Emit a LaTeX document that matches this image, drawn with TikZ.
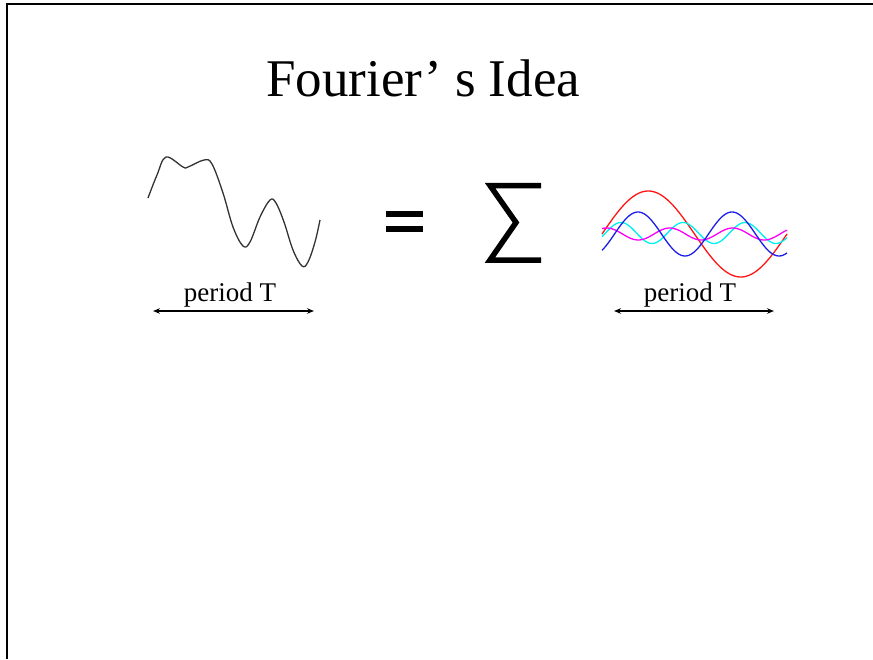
\documentclass[tikz,border=0pt]{standalone}
\usepackage{fontspec}
\setmainfont{Liberation Serif}
\usetikzlibrary{arrows.meta}
\definecolor{wred}{RGB}{255,20,20}
\definecolor{wblue}{RGB}{30,30,235}
\definecolor{wcyan}{RGB}{0,240,240}
\definecolor{wmag}{RGB}{250,0,250}
\tikzset{
  frameline/.style={line width=2pt, black},
  wave/.style={line width=1.3pt, line join=round},
  lbl/.style={font=\fontsize{27}{30}\selectfont, anchor=base, inner sep=0pt},
  span/.style={line width=1.1pt, {Stealth[length=7pt,width=5.5pt]}-{Stealth[length=7pt,width=5.5pt]}},
}
\begin{document}
\begin{tikzpicture}[x=1pt,y=-1pt]
\useasboundingbox (0,0) rectangle (873,659);
% frame
\draw[frameline] (7,659) -- (7,4) -- (873,4);
% title
\node[anchor=base west, inner sep=0pt, font=\fontsize{53}{60}\selectfont] (title) at (266,96) {Fourier’ s Idea};
% left wave
\draw[wave, black!80] plot[smooth, tension=0.6] coordinates {
 (148,198) (157,175) (166,157) (183,167) (188,167) (204,160)
 (212,164) (223,193) (233,227) (243,246) (250,242) (260,217) (270,200) (276,203)
 (284,222) (293,250) (302,266) (308,262) (315,242) (320,220)};
\node[lbl] (lblL) at (230,301) {period T};
\coordinate (aL1) at (153,311);
\coordinate (aL2) at (314,311);
\draw[span] (aL1) -- (aL2);
% equals
\fill (386,211) rectangle (423,217);
\fill (386,226) rectangle (423,232);
% sigma
\draw[line width=5.5pt, miter limit=10] (541,185.5) -- (490,185.5) -- (516,222.5) -- (490,260) -- (541,260);
% right waves
\draw[wave, wred] plot[domain=602:787, samples=90] (\x, {234 - 43*sin((\x-602)/185*360)});
\draw[wave, wcyan] plot[domain=602:787, samples=90] (\x, {233 - 10.5*sin((\x-605.5)/62*360)});
\draw[wave, wmag] plot[domain=602:787, samples=90] (\x, {234 - 6*sin((\x-591)/63*360)});
\draw[wave, wblue] plot[domain=602:787, samples=90] (\x, {234 - 22*sin((\x-614.5)/94*360)});
\node[lbl] (lblR) at (690,301) {period T};
\coordinate (aR1) at (614,311);
\coordinate (aR2) at (774,311);
\draw[span] (aR1) -- (aR2);
\end{tikzpicture}
\end{document}
